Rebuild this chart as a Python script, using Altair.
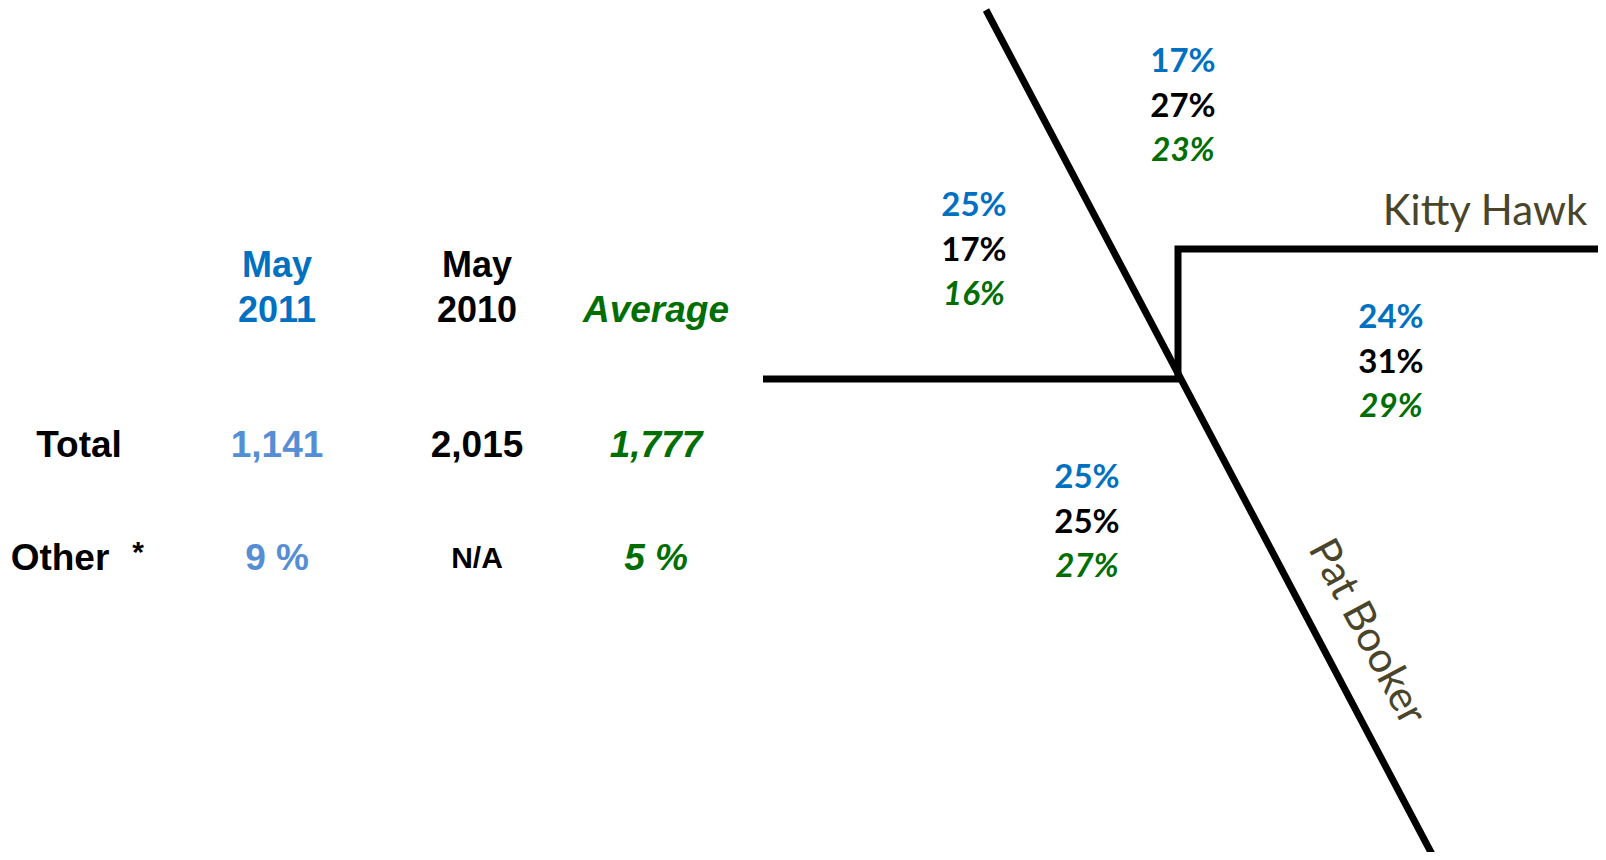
import altair as alt
import pandas as pd

# ---- data ----
col_heads_top = ["May", "May", ""]
col_heads_bottom = ["2011", "2010", "Average"]
row_labels = ["Total", "Other"]
total_values = ["1,141", "2,015", "1,777"]
other_values = ["9 %", "N/A", "5 %"]

approach_names = ["North", "West", "East", "South"]
may_2011 = ["17%", "25%", "24%", "25%"]
may_2010 = ["27%", "17%", "31%", "25%"]
average = ["23%", "16%", "29%", "27%"]

street_names = ["Kitty Hawk", "Pat Booker"]

# ---- layout (page pixel coordinates) ----
col_x = [277, 477, 656]
row_y_head = [266, 311]
row_y = [446, 559]
group_pos = {"North": (1183, 62), "West": (974, 206), "East": (1391, 318), "South": (1087, 478)}
line_gap = 44.5

BLUE = "#0070C0"
LIGHT_BLUE = "#558ED5"
GREEN = "#006E00"
BLACK = "#000000"
OLIVE = "#4A452A"

W, H = 1590, 844
xs = alt.Scale(domain=[8, 8 + W], nice=False, zero=False)
ys = alt.Scale(domain=[8 + H, 8], nice=False, zero=False)

NARROW = "Liberation Sans Narrow, Liberation Sans, Arial"
WIDE = "Liberation Sans, Arial"
CAL = "Lato, Open Sans"

# ---- text table ----
rows = []
colors_cols = [BLUE, BLACK, GREEN]
for i in range(3):
    it = "normal" if i < 2 else "italic"
    if col_heads_top[i]:
        rows.append(dict(x=col_x[i], y=row_y_head[0], t=col_heads_top[i], c=colors_cols[i], s=36, it=it, f=NARROW))
    rows.append(dict(x=col_x[i], y=row_y_head[1], t=col_heads_bottom[i], c=colors_cols[i], s=36 if i < 2 else 37, it=it, f=NARROW if i < 2 else WIDE))
val_colors = [LIGHT_BLUE, BLACK, GREEN]
for i in range(3):
    it = "normal" if i < 2 else "italic"
    rows.append(dict(x=col_x[i], y=row_y[0], t=total_values[i], c=val_colors[i], s=37, it=it, f=NARROW))
    rows.append(dict(x=col_x[i], y=row_y[1], t=other_values[i], c=val_colors[i], s=37 if i != 1 else 30, it=it, f=NARROW))
rows.append(dict(x=79, y=row_y[0], t=row_labels[0], c=BLACK, s=37, it="normal", f=NARROW))
rows.append(dict(x=60, y=row_y[1], t=row_labels[1], c=BLACK, s=37, it="normal", f=NARROW))
rows.append(dict(x=138, y=row_y[1] - 6, t="*", c=BLACK, s=30, it="normal", f=NARROW))

for k, name in enumerate(approach_names):
    gx, gy = group_pos[name]
    rows.append(dict(x=gx, y=gy, t=may_2011[k], c=BLUE, s=33, it="normal", f=CAL))
    rows.append(dict(x=gx, y=gy + line_gap, t=may_2010[k], c=BLACK, s=33, it="normal", f=CAL))
    rows.append(dict(x=gx, y=gy + 2 * line_gap, t=average[k], c=GREEN, s=33, it="italic", f=CAL))

tdf = pd.DataFrame(rows)

def text_layer(df, font, style):
    return alt.Chart(df).mark_text(
        fontWeight="bold", baseline="middle", align="center", font=font, fontStyle=style
    ).encode(
        x=alt.X("x:Q", scale=xs, axis=None),
        y=alt.Y("y:Q", scale=ys, axis=None),
        text="t:N",
        color=alt.Color("c:N", scale=None),
        size=alt.Size("s:Q", scale=None),
    )

layers = []
for (font, style), sub in tdf.groupby(["f", "it"]):
    layers.append(text_layer(sub, font, style))

# ---- roads ----
diag = pd.DataFrame({"x": [986, 1434], "y": [10, 858], "seg": ["d", "d"], "o": [0, 1]})
west = pd.DataFrame({"x": [763, 1180], "y": [379, 379], "seg": ["w", "w"], "o": [0, 1]})
kh = pd.DataFrame({"x": [1178, 1178, 1598], "y": [378, 249, 249], "seg": ["k"] * 3, "o": [0, 1, 2]})
roads = pd.concat([diag, west, kh])

road_layer = alt.Chart(roads).mark_line(
    color="black", strokeWidth=7, strokeJoin="miter", strokeCap="butt"
).encode(
    x=alt.X("x:Q", scale=xs, axis=None),
    y=alt.Y("y:Q", scale=ys, axis=None),
    detail="seg:N",
    order="o:Q",
)

names = pd.DataFrame({"x": [1485, 1367], "y": [212, 632], "t": street_names, "a": [0, 62]})
name_layer = alt.Chart(names).mark_text(
    font=CAL, fontSize=42, color=OLIVE, baseline="middle", align="center"
).encode(
    x=alt.X("x:Q", scale=xs, axis=None),
    y=alt.Y("y:Q", scale=ys, axis=None),
    text="t:N",
    angle=alt.Angle("a:Q", scale=None),
)

chart = alt.layer(road_layer, *layers, name_layer).properties(
    width=W, height=H, padding=0, autosize="none", background="white"
).configure_view(stroke=None)

chart.save("out.html", embed_options={"renderer": "svg", "actions": False})
